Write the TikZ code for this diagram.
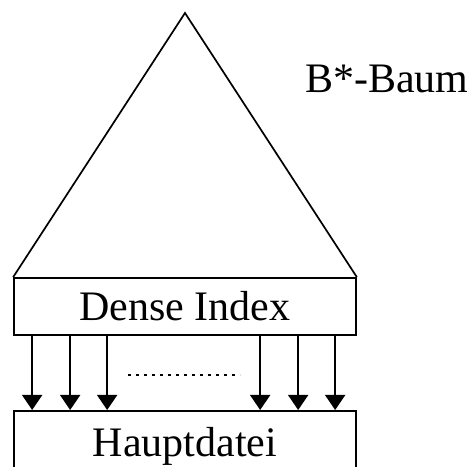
\documentclass[tikz,border=0pt]{standalone}
\usepackage{fontspec}
\setmainfont{Liberation Serif}
\usetikzlibrary{arrows.meta,positioning}

\begin{document}
\begin{tikzpicture}[x=1pt, y=1pt,
    line width=1.7pt,
    every node/.style={font=\fontsize{42}{50}\selectfont},
    box/.style={draw, minimum width=342pt, inner sep=0pt},
    ptr/.style={-{Triangle[width=20pt, length=15pt]}},
    ]
\useasboundingbox (0,0) rectangle (474,466);

\node[box, minimum height=57pt] (index) at (185,159.5) {Dense Index};
\node[box, minimum height=72pt, anchor=north] (haupt) at (185,56) {};
\node at (185,20) (hauptlabel) {Hauptdatei};

% tree on top of the index
\coordinate (apex) at (185,453);
\draw[line join=miter] (index.north west) -- (apex) -- (index.north east);
\node[anchor=base west] (baum) at (301,373) {B*-Baum};

\foreach \d in {19,57,94,247,285,322}
    \draw[ptr] (index.south west) ++(\d,0) coordinate (p) -- (p |- haupt.north);

\draw[line width=1.2pt, dash pattern=on 3pt off 5pt] (128,91) -- (240,91);

\end{tikzpicture}
\end{document}
